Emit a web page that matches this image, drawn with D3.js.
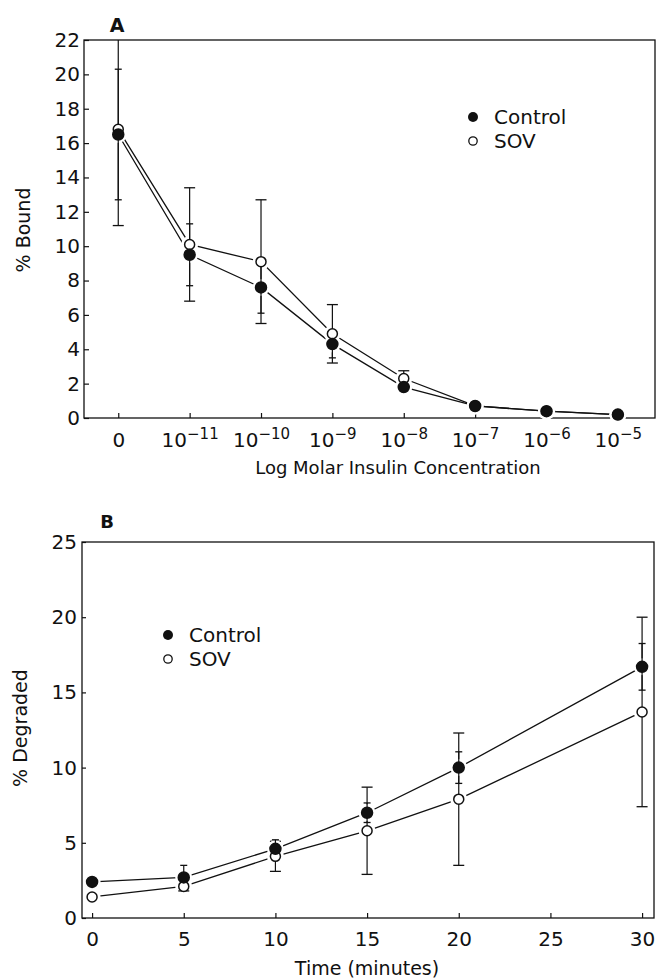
<!DOCTYPE html>
<html>
<head>
<meta charset="utf-8">
<script src="https://cdn.jsdelivr.net/npm/d3@7"></script>
<style>
  body { margin: 0; background: #fff; }
  svg { display: block; }
  text { font-family: "DejaVu Sans", sans-serif; fill: #111; }
</style>
</head>
<body>
<div id="chart"></div>
<script>
// Panel A: binding vs insulin concentration (category index 0..7)
const concLabels = [null, -11, -10, -9, -8, -7, -6, -5] // null = "0", else exponent of 10
const boundControl = [16.5, 9.5, 7.6, 4.3, 1.8, 0.7, 0.4, 0.2]
const boundControlErr = [3.8, 1.8, 1.5, 0.8, 0.2, 0, 0, 0]
const boundSov = [16.8, 10.1, 9.1, 4.9, 2.3, 0.7, 0.4, 0.2]
const boundSovErr = [5.6, 3.3, 3.6, 1.7, 0.45, 0, 0, 0]

// Panel B: degradation vs time
const times = [0, 5, 10, 15, 20, 30]
const degControl = [2.4, 2.7, 4.6, 7.0, 10.0, 16.7]
const degControlErr = [0, 0.8, 0.6, 0.65, 1.05, 1.55]
const degSov = [1.4, 2.1, 4.1, 5.8, 7.9, 13.7]
const degSovErr = [0, 0.3, 1.0, 2.9, 4.4, 6.3]

let width = 656, height = 979

let svg = d3.select("#chart").append("svg")
  .attr("width", width)
  .attr("height", height)

// line through the points, returns pixel positions with value + error attached
function drawSeries(g, x, y, xs, vals, errs) {
  let pts = xs.map((d, i) => ({ x: x(d), y: y(vals[i]), v: vals[i], e: errs[i] }))
  let line = d3.line().x(d => d.x).y(d => d.y)
  g.append("path")
    .attr("d", line(pts))
    .attr("fill", "none")
    .attr("stroke", "#111")
    .attr("stroke-width", 1.3)
  return pts
}

function drawMarks(g, y, pts, capW, clipTop) {
  // white halo so the connecting lines stop short of the markers
  g.selectAll(null).data(pts).enter().append("circle")
    .attr("cx", d => d.x).attr("cy", d => d.y).attr("r", 8.5)
    .attr("fill", "#fff")
  let eb = g.selectAll(null).data(pts.filter(d => d.e > 0)).enter().append("g")
  eb.append("line")
    .attr("x1", d => d.x).attr("x2", d => d.x)
    .attr("y1", d => Math.max(y(d.v + d.e), clipTop)).attr("y2", d => y(d.v - d.e))
    .attr("stroke", "#111").attr("stroke-width", 1.2)
  eb.filter(d => y(d.v + d.e) >= clipTop).append("line")
    .attr("x1", d => d.x - capW / 2).attr("x2", d => d.x + capW / 2)
    .attr("y1", d => y(d.v + d.e)).attr("y2", d => y(d.v + d.e))
    .attr("stroke", "#111").attr("stroke-width", 1.3)
  eb.append("line")
    .attr("x1", d => d.x - capW / 2).attr("x2", d => d.x + capW / 2)
    .attr("y1", d => y(d.v - d.e)).attr("y2", d => y(d.v - d.e))
    .attr("stroke", "#111").attr("stroke-width", 1.3)
}

function drawDots(g, pts, filled) {
  g.selectAll(null).data(pts).enter().append("circle")
    .attr("cx", d => d.x).attr("cy", d => d.y).attr("r", filled ? 5.5 : 5)
    .attr("fill", filled ? "#111" : "#fff")
    .attr("stroke", "#111").attr("stroke-width", 1.5)
}

function legend(g, lx, ly) {
  g.append("circle").attr("cx", lx).attr("cy", ly).attr("r", 5).attr("fill", "#111")
  g.append("text").attr("x", lx + 21).attr("y", ly + 7).attr("font-size", 20).text("Control")
  g.append("circle").attr("cx", lx).attr("cy", ly + 24).attr("r", 4.2)
    .attr("fill", "#fff").attr("stroke", "#111").attr("stroke-width", 1.3)
  g.append("text").attr("x", lx + 21).attr("y", ly + 31).attr("font-size", 20).text("SOV")
}

function frame(g, x0, x1, y0, y1) {
  g.append("rect")
    .attr("x", x0).attr("y", y1).attr("width", x1 - x0).attr("height", y0 - y1)
    .attr("fill", "none").attr("stroke", "#111").attr("stroke-width", 1.3)
}

// ---------- Panel A ----------
{
  let x = d3.scaleLinear().domain([-0.48, 7.52]).range([84, 655])
  let y = d3.scaleLinear().domain([0, 22]).range([418, 40])
  let g = svg.append("g")

  let yAxis = g.append("g").attr("transform", "translate(84,0)")
    .call(d3.axisLeft(y).tickValues(d3.range(0, 23, 2)).tickSizeInner(-5).tickSizeOuter(0).tickPadding(4))
  let xAxis = g.append("g").attr("transform", "translate(0,418)")
    .call(d3.axisBottom(x).tickValues(d3.range(8)).tickSizeInner(-5).tickSizeOuter(0).tickPadding(11))
  g.selectAll(".domain").remove()
  g.selectAll(".tick line").attr("stroke", "#111").attr("stroke-width", 1.2)
  yAxis.selectAll("text").attr("font-size", 20).attr("font-family", "DejaVu Sans").attr("fill", "#111")
  xAxis.selectAll("text").attr("font-family", "DejaVu Sans").attr("fill", "#111").attr("font-size", 20)
    .attr("dy", "0.9em")
    .each(function (d) {
      let t = d3.select(this).text(null)
      let e = concLabels[d]
      if (e === null) { t.text("0"); return }
      t.append("tspan").text("10")
      t.append("tspan").attr("font-size", 15).attr("dy", "-0.55em").text("\u2212" + Math.abs(e))
    })
  frame(g, 84, 655, 418, 40)

  let idx = d3.range(8)
  let pS = drawSeries(g, x, y, idx, boundSov, boundSovErr)
  let pC = drawSeries(g, x, y, idx, boundControl, boundControlErr)
  drawMarks(g, y, pS, 11, 40)
  drawMarks(g, y, pC, 7, 40)
  drawDots(g, pS, false)
  drawDots(g, pC, true)
  legend(g, 473, 117)

  g.append("text").attr("x", 117).attr("y", 32).attr("text-anchor", "middle")
    .attr("font-size", 19).attr("font-weight", "bold").text("A")
  g.append("text").attr("x", 398).attr("y", 474).attr("text-anchor", "middle")
    .attr("font-size", 18).text("Log Molar Insulin Concentration")
  g.append("text").attr("transform", "translate(30,230) rotate(-90)").attr("text-anchor", "middle")
    .attr("font-size", 19).text("% Bound")
}

// ---------- Panel B ----------
{
  let x = d3.scaleLinear().domain([-0.55, 30.65]).range([82, 654])
  let y = d3.scaleLinear().domain([0, 25]).range([918, 542])
  let g = svg.append("g")

  let yAxis = g.append("g").attr("transform", "translate(82,0)")
    .call(d3.axisLeft(y).tickValues(d3.range(0, 26, 5)).tickSizeInner(-4).tickSizeOuter(0).tickPadding(5))
  let xAxis = g.append("g").attr("transform", "translate(0,918)")
    .call(d3.axisBottom(x).tickValues(d3.range(0, 31, 5)).tickSizeInner(-5).tickSizeOuter(0).tickPadding(10))
  g.selectAll(".domain").remove()
  g.selectAll(".tick line").attr("stroke", "#111").attr("stroke-width", 1.2)
  g.selectAll(".tick text").attr("font-size", 20).attr("font-family", "DejaVu Sans").attr("fill", "#111")
  xAxis.selectAll("text").attr("dy", "0.9em")
  frame(g, 82, 654, 918, 542)

  let pS = drawSeries(g, x, y, times, degSov, degSovErr)
  let pC = drawSeries(g, x, y, times, degControl, degControlErr)
  drawMarks(g, y, pS, 11, 542)
  drawMarks(g, y, pC, 7, 542)
  drawDots(g, pS, false)
  drawDots(g, pC, true)
  legend(g, 168, 635)

  g.append("text").attr("x", 107).attr("y", 528).attr("text-anchor", "middle")
    .attr("font-size", 18).attr("font-weight", "bold").text("B")
  g.append("text").attr("x", 367).attr("y", 975).attr("text-anchor", "middle")
    .attr("font-size", 19).text("Time (minutes)")
  g.append("text").attr("transform", "translate(27,728) rotate(-90)").attr("text-anchor", "middle")
    .attr("font-size", 19).text("% Degraded")
}
</script>
</body>
</html>
